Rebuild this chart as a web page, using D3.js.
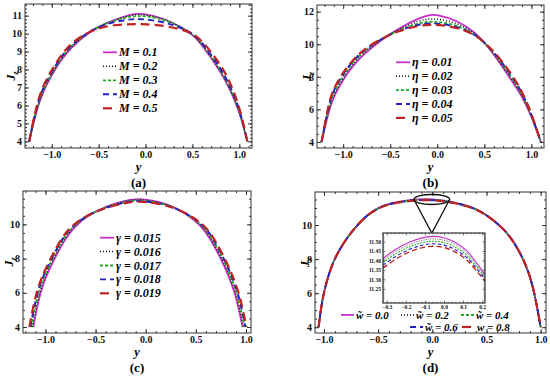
<!DOCTYPE html>
<html>
<head>
<meta charset="utf-8">
<script src="https://cdn.jsdelivr.net/npm/d3@7"></script>
<style>
  body { margin: 0; background: #fff; }
</style>
</head>
<body>
<script>
// ---- data ----

// (a) effect of M
const yA = [-1.24, -1.2, -1.15, -1.1, -1.0, -0.9, -0.8, -0.6, -0.4, -0.2, -0.1, 0.0, 0.2, 0.4, 0.5, 0.6, 0.8, 0.9, 1.0, 1.085];
const jzM01 = [4.0, 4.9, 5.9, 6.7, 7.7, 8.55, 9.2, 10.1, 10.65, 11.0, 11.12, 11.1, 10.85, 10.3, 9.95, 9.4, 7.9, 6.9, 5.7, 4.0];
const jzM02 = [4.0, 4.95, 5.95, 6.75, 7.75, 8.6, 9.25, 10.12, 10.65, 10.97, 11.07, 11.06, 10.83, 10.3, 9.97, 9.45, 7.95, 6.95, 5.75, 4.0];
const jzM03 = [4.0, 5.0, 6.0, 6.8, 7.8, 8.65, 9.3, 10.15, 10.63, 10.92, 10.98, 10.98, 10.8, 10.3, 10.0, 9.5, 8.0, 7.0, 5.8, 4.0];
const jzM04 = [4.0, 5.05, 6.1, 6.9, 7.9, 8.7, 9.35, 10.15, 10.58, 10.78, 10.82, 10.8, 10.65, 10.28, 10.0, 9.55, 8.1, 7.1, 5.9, 4.0];
const jzM05 = [4.0, 5.1, 6.2, 7.0, 8.0, 8.8, 9.45, 10.15, 10.45, 10.52, 10.53, 10.52, 10.45, 10.22, 10.0, 9.65, 8.3, 7.3, 6.0, 4.0];
const labelsA = ["M = 0.1", "M = 0.2", "M = 0.3", "M = 0.4", "M = 0.5"];

// (b) effect of eta
const yB = [-1.23, -1.15, -1.1, -1.0, -0.9, -0.8, -0.6, -0.4, -0.2, -0.07, 0.0, 0.2, 0.4, 0.5, 0.6, 0.8, 0.9, 1.0, 1.1];
const jzE01 = [4.0, 6.0, 6.8, 7.85, 8.65, 9.3, 10.25, 11.0, 11.6, 11.83, 11.8, 11.5, 10.75, 10.1, 9.4, 7.7, 6.8, 5.6, 4.0];
const jzE02 = [4.0, 6.1, 6.9, 7.95, 8.75, 9.4, 10.3, 10.95, 11.45, 11.57, 11.55, 11.35, 10.7, 10.1, 9.45, 7.8, 6.9, 5.65, 4.0];
const jzE03 = [4.0, 6.25, 7.05, 8.1, 8.85, 9.5, 10.3, 10.9, 11.3, 11.4, 11.38, 11.2, 10.65, 10.1, 9.5, 7.9, 6.95, 5.7, 4.0];
const jzE04 = [4.0, 6.4, 7.2, 8.2, 8.95, 9.55, 10.33, 10.87, 11.22, 11.3, 11.28, 11.12, 10.62, 10.1, 9.55, 8.0, 7.05, 5.75, 4.0];
const jzE05 = [4.0, 6.5, 7.3, 8.3, 9.0, 9.6, 10.35, 10.85, 11.15, 11.2, 11.2, 11.05, 10.6, 10.1, 9.6, 8.1, 7.1, 5.8, 4.0];
const labelsB = ["η = 0.01", "η = 0.02", "η = 0.03", "η = 0.04", "η = 0.05"];

// (c) effect of gamma (curves end at slightly different y)
const yG015 = [-1.12, -1.09, -1.05, -1.0, -0.91, -0.8, -0.71, -0.6, -0.4, -0.2, -0.1, 0.0, 0.2, 0.4, 0.55, 0.64, 0.75, 0.82, 0.89, 0.93, 0.966];
const jzG015 = [4.0, 5.0, 6.0, 6.9, 8.0, 9.2, 9.85, 10.45, 11.05, 11.4, 11.48, 11.46, 11.25, 10.65, 9.95, 9.2, 8.0, 7.1, 6.0, 5.0, 4.0];
const yG016 = [-1.13, -1.1, -1.06, -1.01, -0.92, -0.81, -0.72, -0.6, -0.4, -0.2, -0.1, 0.0, 0.2, 0.4, 0.56, 0.65, 0.76, 0.83, 0.9, 0.94, 0.976];
const jzG016 = [4.0, 5.0, 6.0, 6.9, 8.0, 9.2, 9.85, 10.46, 11.03, 11.37, 11.45, 11.43, 11.23, 10.67, 9.95, 9.2, 8.0, 7.1, 6.0, 5.0, 4.0];
const yG017 = [-1.14, -1.11, -1.07, -1.02, -0.93, -0.82, -0.73, -0.6, -0.4, -0.2, -0.1, 0.0, 0.2, 0.4, 0.57, 0.66, 0.77, 0.84, 0.91, 0.95, 0.985];
const jzG017 = [4.0, 5.0, 6.0, 6.9, 8.0, 9.2, 9.85, 10.48, 11.01, 11.33, 11.41, 11.39, 11.2, 10.68, 9.95, 9.2, 8.0, 7.1, 6.0, 5.0, 4.0];
const yG018 = [-1.15, -1.12, -1.08, -1.03, -0.94, -0.83, -0.74, -0.6, -0.4, -0.2, -0.1, 0.0, 0.2, 0.4, 0.58, 0.67, 0.78, 0.85, 0.92, 0.96, 0.995];
const jzG018 = [4.0, 5.0, 6.0, 6.9, 8.0, 9.2, 9.85, 10.5, 10.99, 11.3, 11.37, 11.35, 11.17, 10.69, 9.95, 9.2, 8.0, 7.1, 6.0, 5.0, 4.0];
const yG019 = [-1.16, -1.13, -1.09, -1.04, -0.95, -0.84, -0.75, -0.6, -0.4, -0.2, -0.1, 0.0, 0.2, 0.4, 0.59, 0.68, 0.79, 0.86, 0.93, 0.97, 1.005];
const jzG019 = [4.0, 5.0, 6.0, 6.9, 8.0, 9.2, 9.85, 10.52, 10.97, 11.27, 11.33, 11.32, 11.15, 10.7, 9.95, 9.2, 8.0, 7.1, 6.0, 5.0, 4.0];
const labelsC = ["γ = 0.015", "γ = 0.016", "γ = 0.017", "γ = 0.018", "γ = 0.019"];

// (d) effect of w~
const yD = [-1.05, -1.02, -0.98, -0.93, -0.88, -0.8, -0.7, -0.6, -0.5, -0.4, -0.2, -0.05, 0.1, 0.3, 0.4, 0.5, 0.65, 0.75, 0.85, 0.93, 1.0];
const jzW00 = [4.0, 5.5, 6.6, 7.6, 8.3, 9.15, 9.95, 10.6, 11.0, 11.28, 11.49, 11.53, 11.47, 11.2, 10.95, 10.6, 9.85, 9.05, 7.9, 6.5, 4.0];
const jzW02 = [4.0, 5.5, 6.6, 7.6, 8.3, 9.15, 9.95, 10.6, 11.0, 11.27, 11.477, 11.515, 11.457, 11.19, 10.95, 10.6, 9.85, 9.05, 7.9, 6.5, 4.0];
const jzW04 = [4.0, 5.5, 6.6, 7.6, 8.3, 9.15, 9.95, 10.6, 11.0, 11.26, 11.464, 11.5, 11.444, 11.18, 10.94, 10.6, 9.85, 9.05, 7.9, 6.5, 4.0];
const jzW06 = [4.0, 5.5, 6.6, 7.6, 8.3, 9.15, 9.95, 10.6, 10.99, 11.25, 11.451, 11.487, 11.431, 11.17, 10.94, 10.6, 9.85, 9.05, 7.9, 6.5, 4.0];
const jzW08 = [4.0, 5.5, 6.6, 7.6, 8.3, 9.15, 9.95, 10.6, 10.99, 11.24, 11.438, 11.474, 11.418, 11.16, 10.93, 10.6, 9.85, 9.05, 7.9, 6.5, 4.0];
const labelsD = ["w\u0303 = 0.0", "w\u0303 = 0.2", "w\u0303 = 0.4", "w\u0303 = 0.6", "w = 0.8"];

// (d) inset, zoom on the peak
const yInset = [-0.32, -0.25, -0.18, -0.12, -0.06, 0.0, 0.06, 0.12, 0.18, 0.215];
const inW00 = [11.41, 11.46, 11.497, 11.518, 11.527, 11.52, 11.495, 11.45, 11.375, 11.325];
const inW02 = [11.4, 11.449, 11.485, 11.505, 11.514, 11.507, 11.483, 11.439, 11.366, 11.317];
const inW04 = [11.39, 11.437, 11.472, 11.492, 11.501, 11.494, 11.47, 11.427, 11.356, 11.309];
const inW06 = [11.375, 11.423, 11.459, 11.479, 11.488, 11.481, 11.457, 11.414, 11.345, 11.3];
const inW08 = [11.36, 11.409, 11.445, 11.466, 11.475, 11.468, 11.444, 11.401, 11.333, 11.29];
const zoomSpan = [-0.17, 0.16, 11.5];

// tick labels
const xTicks = [-1.0, -0.5, 0.0, 0.5, 1.0];
const yTicksA = [4, 5, 6, 7, 8, 9, 10, 11];
const yTicksB = [4, 6, 8, 10, 12];
const yTicksCD = [4, 6, 8, 10];
const xTicksInset = [-0.3, -0.2, -0.1, 0.0, 0.1, 0.2];
const yTicksInset = [11.25, 11.3, 11.35, 11.4, 11.45, 11.5];

// ---- styles ----

const styles = [
    { color: "#c832c8", dash: null, width: 1.8 },
    { color: "#111", dash: "1,2", width: 1.5 },
    { color: "#22aa22", dash: "3,2", width: 1.8 },
    { color: "#2222c0", dash: "6,4", width: 1.9 },
    { color: "#c02222", dash: "9,5", width: 2.2 }
];

const serif = "'Liberation Serif', 'DejaVu Serif', serif";

const svg = d3.select("body")
              .append("svg")
                .attr("width", 550)
                .attr("height", 381);

function lineStyle(sel, st, scale = 1) {
    sel.attr("fill", "none")
       .attr("stroke", st.color)
       .attr("stroke-width", st.width * scale)
       .attr("stroke-dasharray", st.dash ? st.dash.split(",").map(v => v * scale).join(",") : null);
}

function frameAxes(g, x, y, box, opt) {
    const [l, t, r, b] = box;
    const clean = a => {
        a.select(".domain").remove();
        a.selectAll("line").attr("stroke", "#333").attr("stroke-width", opt.tickW || 1);
        a.selectAll("text")
         .attr("font-family", serif)
         .attr("font-weight", "bold")
         .attr("font-size", opt.fontSize)
         .attr("fill", "#111");
    };
    const minorX = d3.range(Math.ceil(x.domain()[0] / opt.xMinor), x.domain()[1] / opt.xMinor + 1e-6).map(k => +(k * opt.xMinor).toFixed(4));
    const minorY = d3.range(Math.ceil(y.domain()[0] / opt.yMinor), y.domain()[1] / opt.yMinor + 1e-6).map(k => +(k * opt.yMinor).toFixed(4));

    // bottom + left with labels
    g.append("g").attr("transform", `translate(0,${b})`)
     .call(d3.axisBottom(x).tickValues(opt.xTicks).tickSize(-opt.major).tickPadding(opt.padX).tickFormat(d3.format(opt.xFmt)))
     .call(clean);
    g.append("g").attr("transform", `translate(${l},0)`)
     .call(d3.axisLeft(y).tickValues(opt.yTicks).tickSize(-opt.major).tickPadding(opt.padY).tickFormat(d3.format(opt.yFmt)))
     .call(clean);
    // top + right mirrored, no labels
    g.append("g").attr("transform", `translate(0,${t})`)
     .call(d3.axisTop(x).tickValues(opt.xTicks).tickSize(-opt.major).tickFormat(""))
     .call(clean);
    g.append("g").attr("transform", `translate(${r},0)`)
     .call(d3.axisRight(y).tickValues(opt.yTicks).tickSize(-opt.major).tickFormat(""))
     .call(clean);
    // minor ticks
    [[d3.axisBottom(x).tickValues(minorX), `translate(0,${b})`],
     [d3.axisTop(x).tickValues(minorX), `translate(0,${t})`],
     [d3.axisLeft(y).tickValues(minorY), `translate(${l},0)`],
     [d3.axisRight(y).tickValues(minorY), `translate(${r},0)`]].forEach(([ax, tr]) => {
        g.append("g").attr("transform", tr)
         .call(ax.tickSize(-opt.minor).tickFormat(""))
         .call(clean);
    });

    g.append("rect")
     .attr("x", l).attr("y", t)
     .attr("width", r - l).attr("height", b - t)
     .attr("fill", "none")
     .attr("stroke", "#333")
     .attr("stroke-width", opt.frameW || 1);
}

function drawPanel(p) {
    const [l, t, r, b] = p.box;
    const x = d3.scaleLinear().domain(p.xDom).range([l, r]);
    const y = d3.scaleLinear().domain(p.yDom).range([b, t]);
    const g = svg.append("g");

    g.append("clipPath").attr("id", "clip-" + p.key)
     .append("rect").attr("x", l).attr("y", t).attr("width", r - l).attr("height", b - t);

    const line = d3.line()
                   .x(d => x(d[0]))
                   .y(d => y(d[1]))
                   .curve(d3.curveBasis);

    const curves = g.append("g").attr("clip-path", `url(#clip-${p.key})`);
    p.series.forEach((s, i) => {
        curves.append("path")
              .attr("d", line(s[0].map((v, k) => [v, s[1][k]])))
              .call(lineStyle, styles[i]);
    });

    frameAxes(g, x, y, p.box, {
        xTicks: xTicks, yTicks: p.yTicks, xMinor: 0.1, yMinor: p.yMinor,
        major: 4, minor: 2, padX: 3, padY: 3, xFmt: ".1f", yFmt: "d", fontSize: 10
    });

    // legend
    const fs = p.legendSize || 12;
    p.legend.forEach((pos, i) => {
        g.append("line")
         .attr("x1", pos[0]).attr("x2", pos[0] + fs + 2)
         .attr("y1", pos[1]).attr("y2", pos[1])
         .call(lineStyle, styles[i]);
        g.append("text")
         .attr("x", pos[0] + fs + 4).attr("y", pos[1] + fs / 3)
         .attr("font-family", serif)
         .attr("font-style", "italic")
         .attr("font-weight", "bold")
         .attr("font-size", fs)
         .text(p.labels[i]);
    });

    // axis titles and caption
    g.append("text")
     .attr("x", (l + r) / 2).attr("y", b + 23)
     .attr("text-anchor", "middle")
     .attr("font-family", serif).attr("font-style", "italic").attr("font-weight", "bold")
     .attr("font-size", 12.5)
     .text("y");
    g.append("text")
     .attr("x", (l + r) / 2).attr("y", b + 39)
     .attr("text-anchor", "middle")
     .attr("font-family", serif).attr("font-weight", "bold")
     .attr("font-size", 13)
     .text(p.caption);
    const jz = g.append("text")
                .attr("transform", `translate(${p.jzX},${(t + b) / 2}) rotate(-90)`)
                .attr("text-anchor", "middle")
                .attr("font-family", serif).attr("font-style", "italic").attr("font-weight", "bold")
                .attr("font-size", 12);
    jz.append("tspan").text("J");
    jz.append("tspan").attr("font-size", 8).attr("dy", 3).text("z");

    return { x, y, g };
}

const legendCol = (x0, y0, dy) => d3.range(5).map(i => [x0, y0 + i * dy]);

drawPanel({
    key: "a", caption: "(a)", box: [25, 4, 252, 148],
    xDom: [-1.285, 1.135], yDom: [3.63, 11.65], yTicks: yTicksA, yMinor: 0.2, jzX: 15,
    series: [[yA, jzM01], [yA, jzM02], [yA, jzM03], [yA, jzM04], [yA, jzM05]],
    labels: labelsA, legend: legendCol(103, 52.3, 14)
});

drawPanel({
    key: "b", caption: "(b)", box: [317, 5, 544, 148],
    xDom: [-1.278, 1.134], yDom: [3.63, 12.41], yTicks: yTicksB, yMinor: 0.5, jzX: 311,
    series: [[yB, jzE01], [yB, jzE02], [yB, jzE03], [yB, jzE04], [yB, jzE05]],
    labels: labelsB, legend: legendCol(396, 62.3, 13.9)
});

drawPanel({
    key: "c", caption: "(c)", box: [23, 191, 251, 333],
    xDom: [-1.224, 1.05], yDom: [3.65, 11.95], yTicks: yTicksCD, yMinor: 0.5, jzX: 13,
    series: [[yG015, jzG015], [yG016, jzG016], [yG017, jzG017], [yG018, jzG018], [yG019, jzG019]],
    labels: labelsC, legend: legendCol(100, 237.7, 13.9)
});

const pd = drawPanel({
    key: "d", caption: "(d)", box: [315, 192, 546, 333],
    xDom: [-1.083, 1.049], yDom: [3.66, 11.94], yTicks: yTicksCD, yMinor: 0.5, jzX: 309,
    series: [[yD, jzW00], [yD, jzW02], [yD, jzW04], [yD, jzW06], [yD, jzW08]],
    labels: labelsD, legendSize: 11,
    legend: [[341, 315], [401, 315], [461, 315], [410, 327], [462, 327]]
});

// zoom marker on (d)
const ex0 = pd.x(zoomSpan[0]), ex1 = pd.x(zoomSpan[1]), ey = pd.y(zoomSpan[2]);
const inBox = [383, 233, 485, 303];
pd.g.append("ellipse")
    .attr("cx", (ex0 + ex1) / 2).attr("cy", ey)
    .attr("rx", (ex1 - ex0) / 2).attr("ry", 5)
    .attr("fill", "none").attr("stroke", "#111").attr("stroke-width", 1.3);
pd.g.append("path")
    .attr("d", `M${ex0},${ey}L${(ex0 + ex1) / 2},${inBox[1]}L${ex1},${ey}`)
    .attr("fill", "none").attr("stroke", "#111").attr("stroke-width", 1.3);

// inset
const ix = d3.scaleLinear().domain([-0.32, 0.215]).range([inBox[0], inBox[2]]);
const iy = d3.scaleLinear().domain([11.175, 11.545]).range([inBox[3], inBox[1]]);
const ig = pd.g.append("g");
ig.append("rect")
  .attr("x", inBox[0]).attr("y", inBox[1])
  .attr("width", inBox[2] - inBox[0]).attr("height", inBox[3] - inBox[1])
  .attr("fill", "#fff");
ig.append("clipPath").attr("id", "clip-inset")
  .append("rect").attr("x", inBox[0]).attr("y", inBox[1])
  .attr("width", inBox[2] - inBox[0]).attr("height", inBox[3] - inBox[1]);
const iline = d3.line().x(d => ix(d[0])).y(d => iy(d[1])).curve(d3.curveCatmullRom.alpha(0.5));
const inCurves = ig.append("g").attr("clip-path", "url(#clip-inset)");
[inW00, inW02, inW04, inW06, inW08].forEach((s, i) => {
    inCurves.append("path")
            .attr("d", iline(yInset.map((v, k) => [v, s[k]])))
            .call(lineStyle, styles[i], 0.6);
});
frameAxes(ig, ix, iy, inBox, {
    xTicks: xTicksInset, yTicks: yTicksInset, xMinor: 0.02, yMinor: 0.01,
    major: 2.5, minor: 1.3, padX: 2, padY: 2, xFmt: ".1f", yFmt: ".2f", fontSize: 5.5,
    tickW: 0.6, frameW: 1.2
});
</script>
</body>
</html>
